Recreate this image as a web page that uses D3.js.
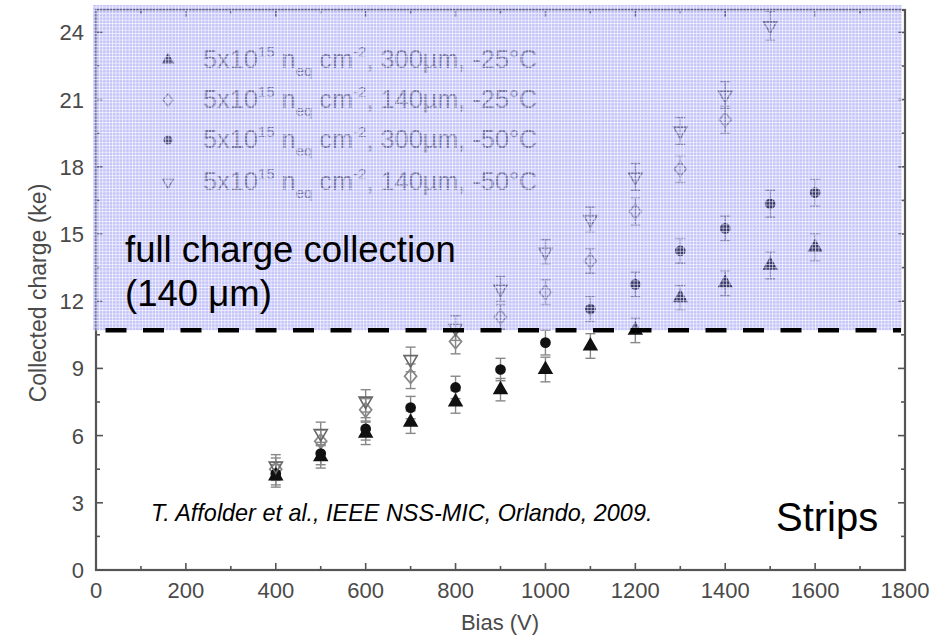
<!DOCTYPE html>
<html><head><meta charset="utf-8">
<script src="https://cdn.jsdelivr.net/npm/d3@7"></script>
<style>body{margin:0;background:#fff}svg{display:block}</style>
</head><body>
<script>
// ---- data ----
const biasTicks = [0,200,400,600,800,1000,1200,1400,1600,1800];
const chargeTicks = [0,3,6,9,12,15,18,21,24];
const bias = [400,500,600,700,800,900,1000,1100,1200,1300,1400,1500,1600];
const s300m25 = [4.2,5.05,6.1,6.6,7.5,8.05,8.95,10.0,10.7,12.15,12.8,13.6,14.4];
const s140m25 = [4.5,5.75,7.15,8.65,10.2,11.3,12.4,13.8,16.0,17.9,20.1,null,null];
const s300m50 = [4.3,5.2,6.3,7.25,8.15,8.95,10.15,11.65,12.75,14.25,15.25,16.35,16.85];
const s140m50 = [4.65,6.1,7.55,9.4,10.8,12.55,14.2,15.65,17.55,19.6,21.2,24.3,null];
const err300m25 = [0.5,0.5,0.5,0.5,0.5,0.5,0.55,0.55,0.55,0.55,0.55,0.6,0.6];
const err140m25 = [0.5,0.5,0.5,0.55,0.55,0.55,0.55,0.55,0.6,0.6,0.6,null,null];
const err300m50 = [0.5,0.5,0.5,0.5,0.5,0.5,0.55,0.55,0.55,0.55,0.55,0.6,0.6];
const err140m50 = [0.5,0.5,0.5,0.55,0.55,0.55,0.55,0.55,0.6,0.6,0.6,0.65,null];
const legendTemps = ["300µm, -25°C","140µm, -25°C","300µm, -50°C","140µm, -50°C"];
const fullChargeLevel = 10.7;

const W=935,H=637;
const svg=d3.select("body").append("svg").attr("width",W).attr("height",H);
const x=d3.scaleLinear().domain([0,1800]).range([96,905]);
const y=d3.scaleLinear().domain([0,25]).range([570,10]);
const font="'Liberation Sans', Arial, sans-serif";
const axisCol="#555";

const series=[
 {vals:s300m25,err:err300m25,type:d3.symbolTriangle,tf:"",fill:"#111",stroke:"#111",size:70},
 {vals:s140m25,err:err140m25,type:d3.symbolSquare,tf:"scale(1,1.2) rotate(45)",fill:"none",stroke:"#888",size:72},
 {vals:s300m50,err:err300m50,type:d3.symbolCircle,tf:"",fill:"#111",stroke:"#111",size:65},
 {vals:s140m50,err:err140m50,type:d3.symbolTriangle,tf:"rotate(180)",fill:"none",stroke:"#666",size:75}
];

// defs pattern
const defs=svg.append("defs");
const pat=defs.append("pattern").attr("id","grid").attr("patternUnits","userSpaceOnUse").attr("width",3.3).attr("height",3.3);
pat.append("rect").attr("width",3.3).attr("height",3.3).attr("fill","rgba(105,105,240,0.4)");
pat.append("rect").attr("width",3.3).attr("height",0.9).attr("fill","rgba(255,255,255,0.65)");
pat.append("rect").attr("width",0.9).attr("height",3.3).attr("fill","rgba(255,255,255,0.65)");

// legend
const leg=svg.append("g");
legendTemps.forEach((t,i)=>{
  const ly=[60,100,140,182][i];
  const s=series[i];
  leg.append("path").attr("d",d3.symbol().type(s.type).size(s.size*0.7)())
    .attr("transform",`translate(168,${ly}) ${s.tf}`)
    .attr("fill",s.fill==="none"?"none":"#333").attr("stroke",s.stroke==="#111"?"#333":s.stroke).attr("stroke-width",1.3);
  const tx=leg.append("text").attr("x",203).attr("y",ly+8).attr("font-family",font).attr("font-size",25.3).attr("fill","#707070");
  tx.append("tspan").text("5x10");
  tx.append("tspan").attr("dy",-11).attr("font-size",15).text("15");
  tx.append("tspan").attr("dy",11).text(" n");
  tx.append("tspan").attr("dy",8).attr("font-size",15).text("eq");
  tx.append("tspan").attr("dy",-8).text(" cm");
  tx.append("tspan").attr("dy",-11).attr("font-size",15).text("-2");
  tx.append("tspan").attr("dy",11).text(", "+t);
});

// points with error bars
const pts=svg.append("g");
series.forEach(s=>{
  bias.forEach((b,i)=>{
    const v=s.vals[i]; if(v==null) return;
    const e=s.err[i]||0.5;
    const cx=x(b);
    const g=pts.append("g").attr("stroke","#888").attr("stroke-width",1.4);
    g.append("line").attr("x1",cx).attr("x2",cx).attr("y1",y(v-e)).attr("y2",y(v+e));
    g.append("line").attr("x1",cx-5).attr("x2",cx+5).attr("y1",y(v-e)).attr("y2",y(v-e));
    g.append("line").attr("x1",cx-5).attr("x2",cx+5).attr("y1",y(v+e)).attr("y2",y(v+e));
  });
});
series.forEach(s=>{
  bias.forEach((b,i)=>{
    const v=s.vals[i]; if(v==null) return;
    pts.append("path").attr("d",d3.symbol().type(s.type).size(s.size)())
      .attr("transform",`translate(${x(b)},${y(v)}) ${s.tf}`)
      .attr("fill",s.fill).attr("stroke",s.stroke).attr("stroke-width",1.6);
  });
});

// axes
const ax=svg.append("g").attr("stroke",axisCol).attr("fill","none");
ax.append("rect").attr("x",x(0)).attr("y",y(25)).attr("width",x(1800)-x(0)).attr("height",y(0)-y(25)).attr("stroke-width",2.2);
const xMinor=d3.range(100,1800,200), yMinor=d3.range(1.5,25,3);
biasTicks.forEach(t=>{ax.append("line").attr("x1",x(t)).attr("x2",x(t)).attr("y1",y(0)).attr("y2",y(0)-7).attr("stroke-width",1.6);
  ax.append("line").attr("x1",x(t)).attr("x2",x(t)).attr("y1",y(25)).attr("y2",y(25)+7).attr("stroke-width",1.6);});
xMinor.forEach(t=>{ax.append("line").attr("x1",x(t)).attr("x2",x(t)).attr("y1",y(0)).attr("y2",y(0)-4).attr("stroke-width",1.6);
  ax.append("line").attr("x1",x(t)).attr("x2",x(t)).attr("y1",y(25)).attr("y2",y(25)+4).attr("stroke-width",1.6);});
chargeTicks.forEach(t=>{ax.append("line").attr("y1",y(t)).attr("y2",y(t)).attr("x1",x(0)).attr("x2",x(0)+7).attr("stroke-width",1.6);
  ax.append("line").attr("y1",y(t)).attr("y2",y(t)).attr("x1",x(1800)).attr("x2",x(1800)-7).attr("stroke-width",1.6);});
yMinor.forEach(t=>{ax.append("line").attr("y1",y(t)).attr("y2",y(t)).attr("x1",x(0)).attr("x2",x(0)+4).attr("stroke-width",1.6);
  ax.append("line").attr("y1",y(t)).attr("y2",y(t)).attr("x1",x(1800)).attr("x2",x(1800)-4).attr("stroke-width",1.6);});

const lbl=svg.append("g").attr("font-family",font).attr("font-size",22).attr("fill","#4a4a4a");
biasTicks.forEach(t=>lbl.append("text").attr("x",x(t)).attr("y",598).attr("text-anchor","middle").text(t));
chargeTicks.forEach(t=>lbl.append("text").attr("x",84).attr("y",y(t)+8).attr("text-anchor","end").text(t));
lbl.append("text").attr("x",500).attr("y",630).attr("text-anchor","middle").text("Bias (V)");
lbl.append("text").attr("transform",`translate(46,${293}) rotate(-90)`).attr("text-anchor","middle").attr("font-size",23).text("Collected charge (ke)");

// overlay region
svg.append("rect").attr("x",93).attr("y",5).attr("width",902-93).attr("height",y(fullChargeLevel)-5).attr("fill","url(#grid)");
svg.append("line").attr("x1",105.5).attr("x2",901).attr("y1",y(fullChargeLevel)).attr("y2",y(fullChargeLevel))
  .attr("stroke","#000").attr("stroke-width",4.5).attr("stroke-dasharray","21 16.5");

// annotations
const an=svg.append("g").attr("font-family",font).attr("fill","#000");
an.append("text").attr("x",125).attr("y",262).attr("font-size",36.5).text("full charge collection");
an.append("text").attr("x",125).attr("y",306).attr("font-size",36.5).text("(140 μm)");
an.append("text").attr("x",151).attr("y",521).attr("font-size",23.4).attr("font-style","italic").text("T. Affolder et al., IEEE NSS-MIC, Orlando, 2009.");
an.append("text").attr("x",776).attr("y",531).attr("font-size",40).text("Strips");
</script>
</body></html>
